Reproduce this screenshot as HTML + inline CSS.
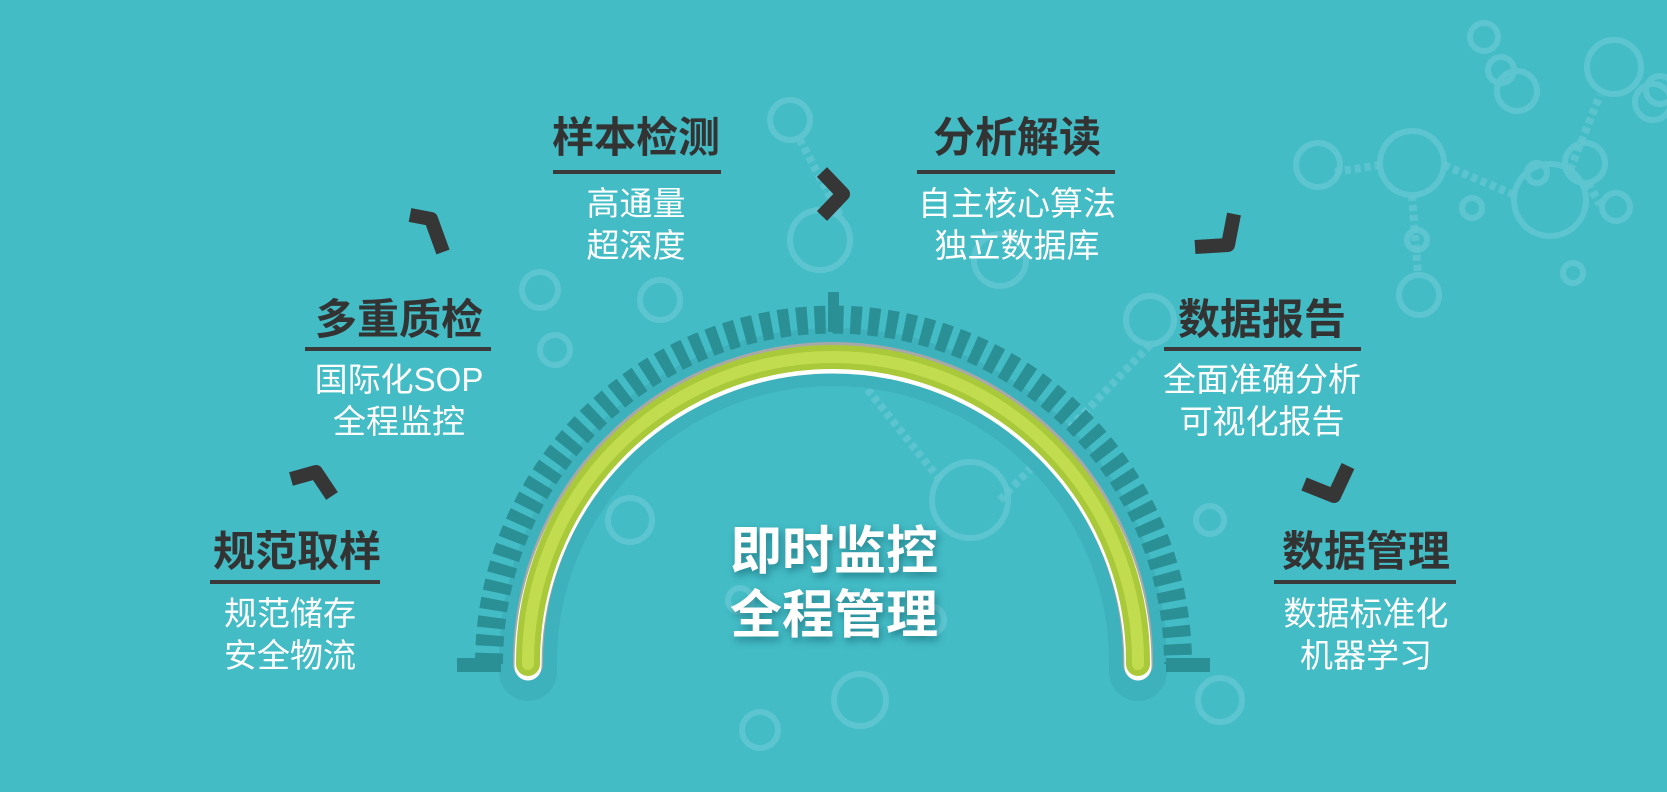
<!DOCTYPE html>
<html><head><meta charset="utf-8">
<style>
html,body{margin:0;padding:0;}
body{width:1667px;height:792px;background:#43bcc6;position:relative;overflow:hidden;font-family:"Liberation Sans","Noto Sans CJK SC",sans-serif;}
.h{position:absolute;font-weight:bold;color:#333;font-size:42px;line-height:48px;text-align:center;white-space:nowrap;transform:translateX(-50%);}
.u{position:absolute;height:4px;background:#3a3a3a;}
.s{position:absolute;color:#fff;font-size:33px;line-height:42px;text-align:center;white-space:nowrap;transform:translateX(-50%);}
.c{position:absolute;left:834px;top:520px;transform:translateX(-50%);color:#fff;font-weight:bold;font-size:52px;line-height:64px;text-align:center;text-shadow:2px 4px 8px rgba(0,60,70,0.45);white-space:nowrap;}
svg{position:absolute;left:0;top:0;}
</style></head><body>
<svg width="1667" height="792" viewBox="0 0 1667 792">
 <g fill="none" stroke="#62c7d1" stroke-width="6" opacity="0.85">
  <circle cx="1318" cy="165" r="22"/><circle cx="1412" cy="163" r="32"/><circle cx="1550" cy="200" r="36"/>
  <circle cx="1653" cy="102" r="18"/><circle cx="1484" cy="37" r="14"/>
  <circle cx="1501" cy="70" r="13"/><circle cx="1614" cy="67" r="27"/><circle cx="1660" cy="90" r="14"/>
  <circle cx="1517" cy="91" r="20"/><circle cx="1585" cy="163" r="20"/><circle cx="1537" cy="173" r="10"/>
  <circle cx="1472" cy="208" r="10"/><circle cx="1616" cy="207" r="14"/><circle cx="1573" cy="273" r="10"/>
  <circle cx="1419" cy="295" r="20"/><circle cx="1417" cy="240" r="10"/>
  <circle cx="820" cy="240" r="30"/><circle cx="790" cy="120" r="20"/><circle cx="660" cy="300" r="20"/>
  <circle cx="555" cy="350" r="15"/><circle cx="630" cy="520" r="22"/><circle cx="970" cy="500" r="38"/>
  <circle cx="860" cy="700" r="26"/><circle cx="930" cy="620" r="14"/><circle cx="740" cy="600" r="12"/>
  <circle cx="1000" cy="260" r="26"/><circle cx="1150" cy="320" r="24"/><circle cx="1210" cy="520" r="14"/>
  <circle cx="760" cy="730" r="18"/><circle cx="1220" cy="700" r="22"/><circle cx="540" cy="290" r="18"/>
 </g>
 <g stroke="#62c7d1" stroke-width="8" stroke-dasharray="6 4" opacity="0.8">
  <line x1="1335" y1="172" x2="1380" y2="165"/><line x1="1444" y1="165" x2="1514" y2="195"/>
  <line x1="1412" y1="195" x2="1418" y2="275"/><line x1="1570" y1="170" x2="1600" y2="95"/>
  <line x1="1588" y1="183" x2="1600" y2="205"/><line x1="840" y1="215" x2="800" y2="140"/>
  <line x1="940" y1="480" x2="860" y2="380"/><line x1="1000" y1="500" x2="1150" y2="345"/>
 </g>
 <path d="M 528 672 L 528 662 A 305 305 0 0 1 1138 662 L 1138 672" fill="none" stroke="#3eb2bc" stroke-width="58" stroke-linecap="round"/>
 <path d="M 489 664 A 344.5 344.5 0 0 1 1178 664" fill="none" stroke="#2a9095" stroke-width="28" stroke-dasharray="11 7"/>
 <rect x="457" y="658" width="44" height="14" fill="#2a9095"/>
 <rect x="1166" y="658" width="44" height="14" fill="#2a9095"/>
 <rect x="828" y="292" width="11" height="40" fill="#2a9095"/>
 <path d="M 528 664 L 528 662 A 305 305 0 0 1 1138 662 L 1138 664" fill="none" stroke="#a8a8a8" stroke-width="30" stroke-linecap="round"/>
 <path d="M 528 664 L 528 662 A 305 305 0 0 1 1138 662 L 1138 664" fill="none" stroke="#ffffff" stroke-width="27" stroke-linecap="round" transform="translate(0,3)"/>
 <path d="M 528 664 L 528 662 A 305 305 0 0 1 1138 662 L 1138 664" fill="none" stroke="#a9c93a" stroke-width="24" stroke-linecap="round"/>
 <path d="M 528 664 L 528 662 A 305 305 0 0 1 1138 662 L 1138 664" fill="none" stroke="#c2dc50" stroke-width="12" stroke-linecap="round"/>
 <g fill="none" stroke="#363636" stroke-width="14" stroke-linejoin="round">
  <polyline points="291,479 316,472 332,496"/>
  <polyline points="410,215 431,219 443,252"/>
  <polyline points="822,172 843,194 822,216"/>
  <polyline points="1234,214 1228,245 1195,247"/>
  <polyline points="1348,466 1334,496 1304,484"/>
 </g>
</svg>

<div class="h" style="left:636px;top:114px;">样本检测</div>
<div class="u" style="left:553px;top:170px;width:168px;"></div>
<div class="s" style="left:636px;top:183px;">高通量<br>超深度</div>

<div class="h" style="left:1017px;top:114px;">分析解读</div>
<div class="u" style="left:917px;top:170px;width:198px;"></div>
<div class="s" style="left:1017px;top:183px;">自主核心算法<br>独立数据库</div>

<div class="h" style="left:399px;top:296px;">多重质检</div>
<div class="u" style="left:305px;top:347px;width:186px;"></div>
<div class="s" style="left:399px;top:359px;">国际化SOP<br>全程监控</div>

<div class="h" style="left:1262px;top:296px;">数据报告</div>
<div class="u" style="left:1164px;top:347px;width:197px;"></div>
<div class="s" style="left:1262px;top:359px;">全面准确分析<br>可视化报告</div>

<div class="h" style="left:297px;top:528px;">规范取样</div>
<div class="u" style="left:210px;top:580px;width:170px;"></div>
<div class="s" style="left:290px;top:593px;">规范储存<br>安全物流</div>

<div class="h" style="left:1366px;top:528px;">数据管理</div>
<div class="u" style="left:1274px;top:580px;width:182px;"></div>
<div class="s" style="left:1366px;top:593px;">数据标准化<br>机器学习</div>

<div class="c">即时监控<br>全程管理</div>
</body></html>
